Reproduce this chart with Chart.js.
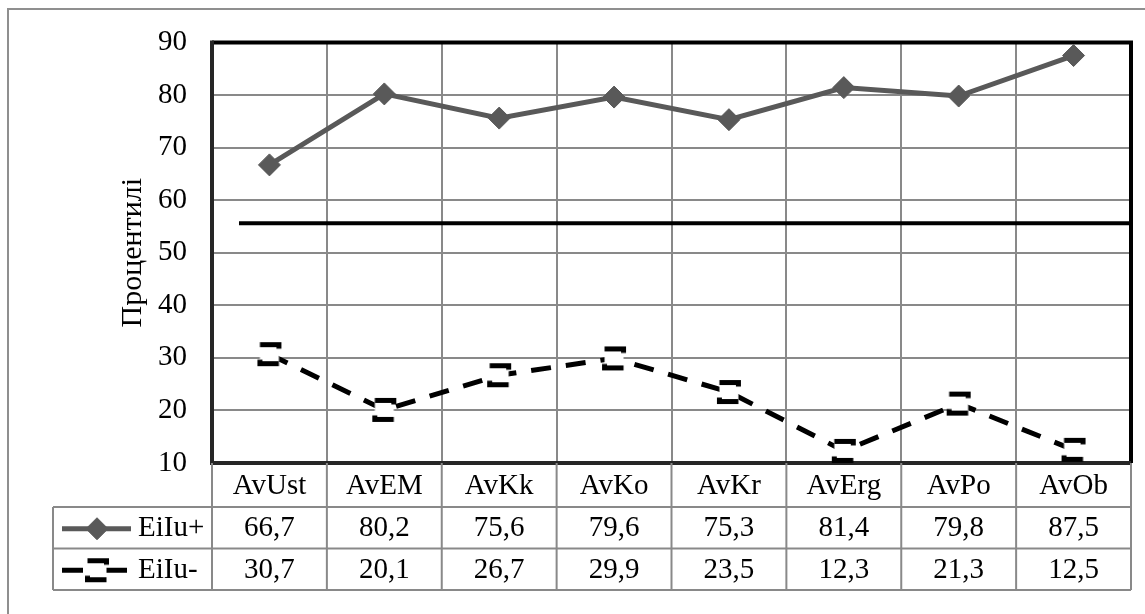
<!DOCTYPE html>
<html>
<head>
<meta charset="utf-8">
<script src="https://cdn.jsdelivr.net/npm/chart.js@4.4.1/dist/chart.umd.min.js"></script>
<style>
  html, body { margin: 0; padding: 0; background: #fff; }
  #wrap { width: 1145px; height: 614px; }
  canvas { display: block; }
</style>
</head>
<body>
<div id="wrap"><canvas id="c" width="1145" height="614"></canvas></div>
<script>
// ---- data ----
const categories = ['AvUst', 'AvEM', 'AvKk', 'AvKo', 'AvKr', 'AvErg', 'AvPo', 'AvOb'];
const seriesNames = ['EiIu+', 'EiIu-'];
const eiIuPlus = [66.7, 80.2, 75.6, 79.6, 75.3, 81.4, 79.8, 87.5];
const eiIuMinus = [30.7, 20.1, 26.7, 29.9, 23.5, 12.3, 21.3, 12.5];
const yTicks = [10, 20, 30, 40, 50, 60, 70, 80, 90];
const levelValue = [55.6, 55.6];
const levelSpan = [-0.265, 7.5];
const axisTitle = 'Процентилі';

const FONT = "'Liberation Serif', 'Times New Roman', serif";
const FONT_SIZE = 29;
const GRID = '#898989';
const GRAY_SERIES = '#595959';

// open square marker with a dashed outline
function dashedSquare(side, lw) {
  const c = document.createElement('canvas');
  c.width = c.height = side + lw + 2;
  const g = c.getContext('2d');
  const o = (c.width - side) / 2;
  g.fillStyle = '#fff';
  g.fillRect(o, o, side, side);
  g.strokeStyle = '#000';
  g.lineWidth = lw;
  g.setLineDash([23, 15]);
  g.beginPath();
  g.moveTo(o, o);
  g.lineTo(o + side, o);
  g.lineTo(o + side, o + side);
  g.lineTo(o, o + side);
  g.closePath();
  g.stroke();
  return c;
}
const minusMarker = dashedSquare(19, 5);

const fmt = v => v.toFixed(1).replace('.', ',');

// page frame and plot-area border
const framePlugin = {
  id: 'frame',
  beforeDraw(chart) {
    const { ctx, width, height } = chart;
    ctx.save();
    ctx.fillStyle = '#fff';
    ctx.fillRect(0, 0, width, height);
    ctx.strokeStyle = '#8f8f8f';
    ctx.lineWidth = 2;
    ctx.beginPath();
    ctx.moveTo(8, height);
    ctx.lineTo(8, 9);
    ctx.lineTo(width, 9);
    ctx.stroke();
    ctx.restore();
  },
  beforeDatasetsDraw(chart) {
    const { ctx, chartArea: a } = chart;
    ctx.save();
    ctx.lineWidth = 4;
    ctx.strokeStyle = '#000';
    ctx.beginPath();
    ctx.moveTo(a.left, a.top);
    ctx.lineTo(a.right, a.top);
    ctx.lineTo(a.right, a.bottom);
    ctx.stroke();
    ctx.strokeStyle = '#262626';
    ctx.beginPath();
    ctx.moveTo(a.right, a.bottom);
    ctx.lineTo(a.left, a.bottom);
    ctx.lineTo(a.left, a.top - 2);
    ctx.stroke();
    ctx.restore();
  }
};

// data table under the plot: category row, one row per series with legend key
const tablePlugin = {
  id: 'dataTable',
  afterDraw(chart, args, opts) {
    const { ctx, chartArea: a } = chart;
    const x = chart.scales.x;
    const top = a.bottom;
    const r1 = top + opts.headerHeight;
    const rows = [r1, r1 + opts.rowHeight, r1 + 2 * opts.rowHeight];
    ctx.save();
    ctx.strokeStyle = GRID;
    ctx.lineWidth = 2;
    ctx.beginPath();
    rows.forEach(y => { ctx.moveTo(opts.left, y); ctx.lineTo(a.right, y); });
    ctx.moveTo(opts.left, r1);
    ctx.lineTo(opts.left, rows[2]);
    for (let i = 0; i <= categories.length; i++) {
      const px = x.getPixelForValue(i - 0.5);
      ctx.moveTo(px, top);
      ctx.lineTo(px, rows[2]);
    }
    ctx.stroke();

    ctx.font = FONT_SIZE + 'px ' + FONT;
    ctx.fillStyle = '#000';
    ctx.textBaseline = 'middle';
    const series = [chart.data.datasets[0], chart.data.datasets[1]];
    series.forEach((ds, r) => {
      const cy = rows[r] + opts.rowHeight / 2 + 1;
      ctx.textAlign = 'center';
      ds.data.forEach((v, i) => {
        ctx.fillText(fmt(v), x.getPixelForValue(i), cy);
      });
      // legend key
      ctx.save();
      ctx.strokeStyle = ds.borderColor;
      ctx.lineWidth = ds.borderWidth;
      ctx.setLineDash(ds.borderDash ? [21, 23] : []);
      ctx.beginPath();
      ctx.moveTo(opts.keyFrom, cy);
      ctx.lineTo(opts.keyTo, cy);
      ctx.stroke();
      ctx.restore();
      ctx.save();
      ctx.fillStyle = ds.pointBackgroundColor;
      ctx.strokeStyle = ds.pointBorderColor;
      ctx.lineWidth = ds.pointBorderWidth;
      Chart.helpers.drawPoint(ctx, { pointStyle: ds.pointStyle, radius: ds.pointRadius, borderWidth: ds.pointBorderWidth, rotation: 0 }, opts.keyMark, cy);
      ctx.restore();
      ctx.textAlign = 'left';
      ctx.fillText(ds.label, opts.labelX, cy);
    });
    ctx.restore();
  }
};

new Chart(document.getElementById('c'), {
  type: 'line',
  data: {
    labels: categories,
    datasets: [
      {
        label: seriesNames[0],
        data: eiIuPlus,
        borderColor: GRAY_SERIES,
        borderWidth: 5,
        pointStyle: 'rectRot',
        pointRadius: 11,
        pointBackgroundColor: GRAY_SERIES,
        pointBorderColor: GRAY_SERIES,
        pointBorderWidth: 1,
        tension: 0,
        order: 1
      },
      {
        label: seriesNames[1],
        data: eiIuMinus,
        borderColor: '#000',
        borderWidth: 5,
        borderDash: [20, 15],
        borderCapStyle: 'butt',
        pointStyle: minusMarker,
        pointRadius: 10,
        pointBackgroundColor: '#fff',
        pointBorderColor: '#000',
        pointBorderWidth: 0,
        tension: 0,
        order: 2
      },
      {
        label: 'level',
        data: levelSpan.map((p, i) => ({ x: p, y: levelValue[i] })),
        xAxisID: 'xLevel',
        borderColor: '#000',
        borderWidth: 4,
        pointRadius: 0,
        order: 3
      }
    ]
  },
  options: {
    responsive: false,
    animation: false,
    devicePixelRatio: 1,
    layout: { padding: { top: 38, right: 14, bottom: 0, left: 0 } },
    plugins: {
      legend: { display: false },
      tooltip: { enabled: false },
      dataTable: { headerHeight: 44, rowHeight: 41.5, left: 53, keyFrom: 62, keyTo: 131, keyMark: 97, labelX: 138 }
    },
    scales: {
      x: {
        type: 'category',
        offset: true,
        grid: { offset: true, color: GRID, lineWidth: 2, drawTicks: false },
        border: { display: false },
        ticks: { font: { family: FONT, size: FONT_SIZE }, color: '#000', padding: 6, maxRotation: 0, autoSkip: false },
        afterFit: s => { s.height = 151; }
      },
      xLevel: {
        type: 'linear',
        display: false,
        min: -0.5,
        max: 7.5,
        offset: false
      },
      y: {
        min: 10,
        max: 90,
        afterBuildTicks: s => { s.ticks = yTicks.map(v => ({ value: v })); },
        grid: { color: GRID, lineWidth: 2, drawTicks: false },
        border: { display: false },
        ticks: { font: { family: FONT, size: FONT_SIZE }, color: '#000', padding: 25 },
        title: { display: true, text: axisTitle, font: { family: FONT, size: 30 }, color: '#000', padding: { top: 115, bottom: 0 } },
        afterFit: s => { s.width = 212; }
      }
    }
  },
  plugins: [framePlugin, tablePlugin]
});
</script>
</body>
</html>
